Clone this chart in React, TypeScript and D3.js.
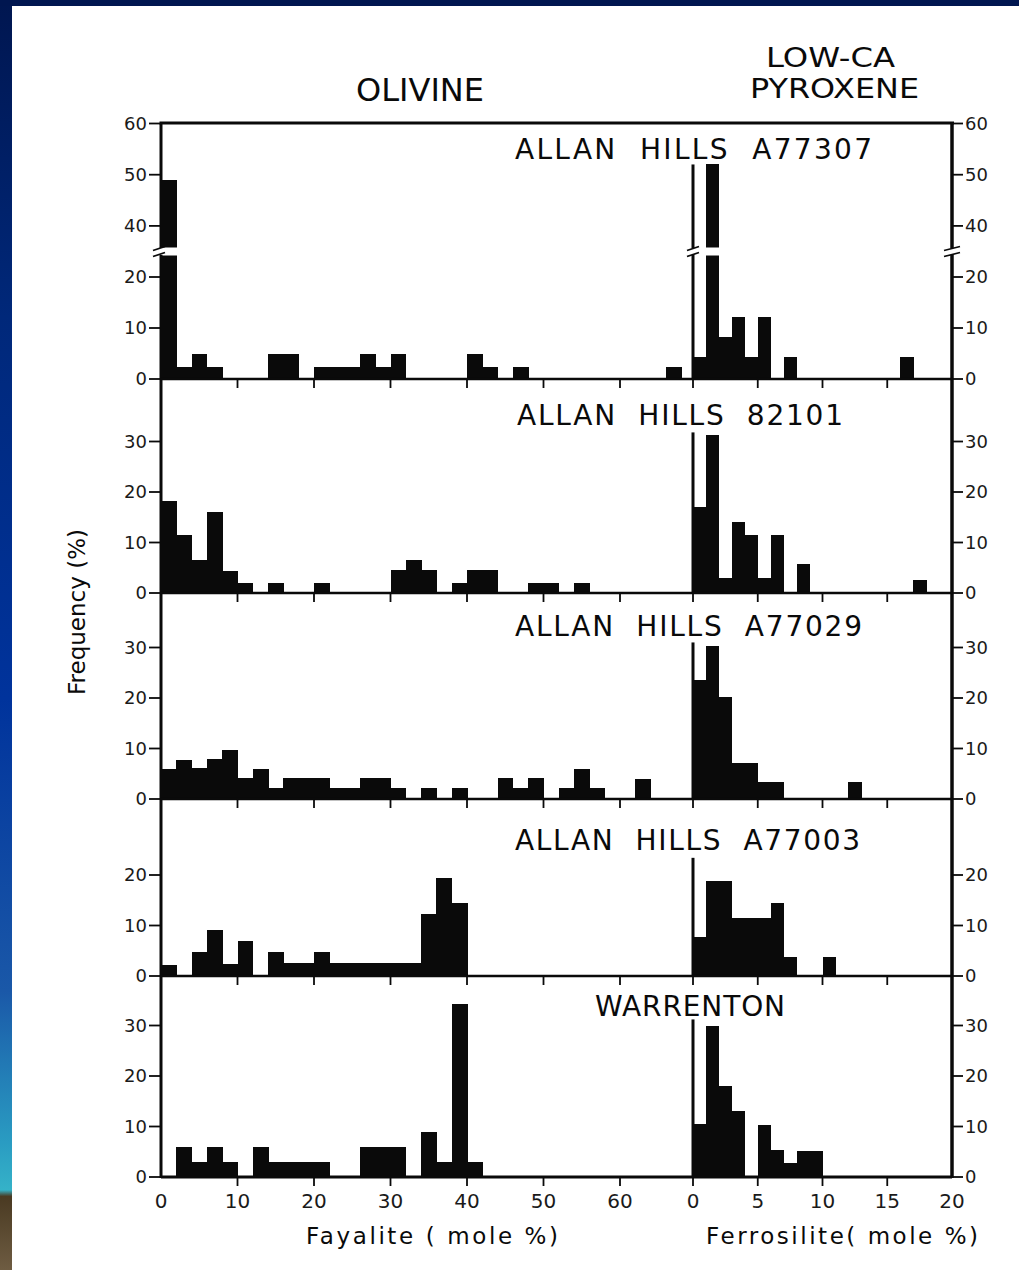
import React from 'react';
import * as d3 from 'd3';

const W = 1019;
const H = 1270;

const panelNames = ['ALLAN  HILLS  A77307', 'ALLAN  HILLS  82101', 'ALLAN  HILLS  A77029', 'ALLAN  HILLS  A77003', 'WARRENTON'];

// Olivine: fayalite frequency (%) in 2 mole% bins starting at 0
const olA77307 = [49, 2.4, 5, 2.4, 0, 0, 0, 5, 5, 0, 2.4, 2.4, 2.4, 5, 2.4, 5, 0, 0, 0, 0, 5, 2.4, 0, 2.4, 0, 0, 0, 0, 0, 0, 0, 0, 0, 2.4];
const ol82101 = [18.3, 11.4, 6.6, 16, 4.4, 2, 0, 2, 0, 0, 2, 0, 0, 0, 0, 4.5, 6.6, 4.5, 0, 2, 4.5, 4.5, 0, 0, 2, 2, 0, 2];
const olA77029 = [5.9, 7.8, 6.1, 7.9, 9.7, 4.1, 5.9, 2.1, 4.1, 4.1, 4.1, 2.1, 2.1, 4.1, 4.1, 2.1, 0, 2.1, 0, 2.1, 0, 0, 4.1, 2.1, 4.1, 0, 2.1, 6, 2.1, 0, 0, 3.9];
const olA77003 = [2.2, 0, 4.8, 9.2, 2.4, 6.9, 0, 4.8, 2.5, 2.5, 4.8, 2.5, 2.5, 2.5, 2.5, 2.5, 2.5, 12.3, 19.5, 14.4];
const olWarrenton = [0, 6, 3, 6, 3, 0, 6, 3, 3, 3, 3, 0, 0, 6, 6, 6, 0, 9, 3, 34.2, 3];

// Low-Ca pyroxene: ferrosilite frequency (%) in 1 mole% bins starting at 0
const pxA77307 = [4.4, 52, 8.3, 12.2, 4.4, 12.2, 0, 4.4, 0, 0, 0, 0, 0, 0, 0, 0, 4.4];
const px82101 = [17, 31.2, 2.9, 14, 11.5, 2.9, 11.4, 0, 5.7, 0, 0, 0, 0, 0, 0, 0, 0, 2.6];
const pxA77029 = [23.5, 30.2, 20.2, 7.1, 7.1, 3.4, 3.4, 0, 0, 0, 0, 0, 3.4];
const pxA77003 = [7.8, 18.8, 18.8, 11.4, 11.4, 11.4, 14.5, 3.8, 0, 0, 3.8];
const pxWarrenton = [10.5, 29.9, 18.1, 13, 0, 10.2, 5.4, 2.7, 5.2, 5.2];

const olivine = [olA77307, ol82101, olA77029, olA77003, olWarrenton];
const pyroxene = [pxA77307, px82101, pxA77029, pxA77003, pxWarrenton];
const separatorTop = [52, 31.8, 31, 23.4, 31.2];

const yTicks = [[0, 10, 20, 40, 50, 60], [0, 10, 20, 30], [0, 10, 20, 30], [0, 10, 20], [0, 10, 20, 30]];
const fayTicks = [0, 10, 20, 30, 40, 50, 60];
const fsTicks = [0, 5, 10, 15, 20];

const OL_BIN = 2;
const PX_BIN = 1;

const FONT = "'DejaVu Sans', 'Liberation Sans', sans-serif";
const INK = '#0a0a0a';

export default function App() {
  const fx = d3.scaleLinear().domain([0, 40]).range([161, 467]);
  const px = d3.scaleLinear().domain([0, 20]).range([693, 952]);
  const frameTop = 123;
  const baselines = [379, 593, 799, 976, 1177];
  const k = 5.05;
  const yScales = baselines.map((b, i) => {
    if (i === 0) return d3.scaleLinear().domain([0, 25, 35, 60]).range([379, 251.5, 251.5, 123.5]);
    const t = baselines[i - 1];
    return d3.scaleLinear().domain([0, (b - t) / k]).range([b, t]);
  });
  const left = fx(0);
  const right = px(20);
  const breakY = 251.5;

  const breakMark = (x: number, w: number, key: string) => (
    <g key={key}>
      <rect x={x - w} y={breakY - 3.5} width={2 * w} height={7} fill="#fff" />
      <line x1={x - w} y1={breakY - 1} x2={x + w} y2={breakY - 5} stroke={INK} strokeWidth={1.8} />
      <line x1={x - w} y1={breakY + 5} x2={x + w} y2={breakY + 1} stroke={INK} strokeWidth={1.8} />
    </g>
  );

  return (
    <svg width={W} height={H} viewBox={`0 0 ${W} ${H}`} style={{ position: 'absolute', left: 0, top: 0, display: 'block' }}>
      <defs>
        <linearGradient id="bg" x1="0" y1="0" x2="0" y2={H} gradientUnits="userSpaceOnUse">
          <stop offset={0} stopColor="#001650" />
          <stop offset={0.25} stopColor="#00287a" />
          <stop offset={0.55} stopColor="#00339c" />
          <stop offset={0.78} stopColor="#1a58a8" />
          <stop offset={0.9} stopColor="#2a9cc2" />
          <stop offset={0.937} stopColor="#35b2c8" />
          <stop offset={0.942} stopColor="#4a3a22" />
          <stop offset={1} stopColor="#6e5c42" />
        </linearGradient>
      </defs>
      <rect x={0} y={0} width={W} height={H} fill="url(#bg)" />
      <rect x={0} y={0} width={W} height={6} fill="#001650" />
      <rect x={12} y={6} width={W - 12} height={H - 6} fill="#ffffff" />

      {/* bars */}
      {olivine.map((vals, i) => (
        <g key={`ol${i}`} shapeRendering="crispEdges">
          {vals.map((v, j) => v > 0 ? (
            <rect key={j} x={fx(j * OL_BIN)} y={yScales[i](v)} width={fx((j + 1) * OL_BIN) - fx(j * OL_BIN) + 0.5}
              height={yScales[i](0) - yScales[i](v)} fill={INK} />
          ) : null)}
        </g>
      ))}
      {pyroxene.map((vals, i) => (
        <g key={`px${i}`} shapeRendering="crispEdges">
          {vals.map((v, j) => v > 0 ? (
            <rect key={j} x={px(j * PX_BIN)} y={yScales[i](v)} width={px((j + 1) * PX_BIN) - px(j * PX_BIN) + 0.5}
              height={yScales[i](0) - yScales[i](v)} fill={INK} />
          ) : null)}
        </g>
      ))}

      {/* separators at ferrosilite 0 */}
      {separatorTop.map((v, i) => (
        <line key={`sep${i}`} x1={px(0)} x2={px(0)} y1={baselines[i]} y2={yScales[i](v)} stroke={INK} strokeWidth={3} />
      ))}

      {/* frame */}
      <line x1={left - 1.5} x2={right + 2} y1={frameTop} y2={frameTop} stroke={INK} strokeWidth={3} />
      <line x1={left} x2={left} y1={frameTop} y2={baselines[4] + 1} stroke={INK} strokeWidth={3} />
      <line x1={right} x2={right} y1={frameTop} y2={baselines[4] + 1} stroke={INK} strokeWidth={3.5} />
      {baselines.map((b, i) => (
        <line key={`base${i}`} x1={left} x2={right} y1={b} y2={b} stroke={INK} strokeWidth={i === 4 ? 3 : 2.5} />
      ))}

      {/* breaks in top panel */}
      {olivine[0].map((v, j) => v > 25 ? (
        <rect key={`gapOl${j}`} x={fx(j * OL_BIN) + (j === 0 ? 1.5 : -0.5)} y={breakY - 4} width={fx((j + 1) * OL_BIN) - fx(j * OL_BIN) + 1} height={8} fill="#fff" />
      ) : null)}
      {pyroxene[0].map((v, j) => v > 25 ? (
        <rect key={`gapPx${j}`} x={px(j * PX_BIN) - 0.5} y={breakY - 4} width={px((j + 1) * PX_BIN) - px(j * PX_BIN) + 1.5} height={8} fill="#fff" />
      ) : null)}
      {breakMark(left - 2, 6, 'bl')}
      {breakMark(right, 8, 'br')}
      {breakMark(px(0), 6, 'bs')}

      {/* y ticks and labels */}
      {yTicks.map((ticks, i) => (
        <g key={`yt${i}`}>
          {ticks.map((t) => {
            const y = yScales[i](t);
            return (
              <g key={t}>
                <line x1={left - 12} x2={left} y1={y} y2={y} stroke={INK} strokeWidth={1.8} />
                <line x1={right} x2={right + 11} y1={y} y2={y} stroke={INK} strokeWidth={1.8} />
                <text x={left - 14} y={y} dy="0.36em" textAnchor="end" fontFamily={FONT} fontSize={18} fill="#1a1a1a">{t}</text>
                <text x={right + 13} y={y} dy="0.36em" textAnchor="start" fontFamily={FONT} fontSize={18} fill="#1a1a1a">{t}</text>
              </g>
            );
          })}
        </g>
      ))}

      {/* x ticks along each panel bottom */}
      {baselines.map((b, i) => (
        <g key={`xt${i}`}>
          {fayTicks.filter((t) => t > 0).map((t) => (
            <line key={`f${t}`} x1={fx(t)} x2={fx(t)} y1={b} y2={b + 9} stroke={INK} strokeWidth={1.8} />
          ))}
          {fsTicks.filter((t) => t < 20).map((t) => (
            <line key={`p${t}`} x1={px(t)} x2={px(t)} y1={b} y2={b + 9} stroke={INK} strokeWidth={1.8} />
          ))}
        </g>
      ))}

      {/* bottom tick labels */}
      {fayTicks.map((t) => (
        <text key={`fl${t}`} x={fx(t)} y={1208} textAnchor="middle" fontFamily={FONT} fontSize={20} fill="#1a1a1a">{t}</text>
      ))}
      {fsTicks.map((t) => (
        <text key={`pl${t}`} x={px(t)} y={1208} textAnchor="middle" fontFamily={FONT} fontSize={20} fill="#1a1a1a">{t}</text>
      ))}

      {/* panel names */}
      {panelNames.map((name, i) => {
        const pos = [[515, 159, 357], [517, 425, 326], [515, 636, 347], [515, 850, 345], [595, 1016, 190]][i];
        return (
          <text key={`pn${i}`} x={pos[0]} y={pos[1]} textLength={pos[2]} lengthAdjust="spacing"
            fontFamily={FONT} fontSize={28} fill={INK} style={{ whiteSpace: 'pre' }}>{name}</text>
        );
      })}

      {/* headers */}
      <text x={356} y={101} textLength={128} lengthAdjust="spacingAndGlyphs" fontFamily={FONT} fontSize={32} fill={INK}>OLIVINE</text>
      <text x={766} y={67} textLength={129} lengthAdjust="spacingAndGlyphs" fontFamily={FONT} fontSize={27} fill={INK}>LOW-CA</text>
      <text x={750} y={98} textLength={169} lengthAdjust="spacingAndGlyphs" fontFamily={FONT} fontSize={27} fill={INK}>PYROXENE</text>

      {/* axis titles */}
      <text x={306} y={1244} textLength={252} lengthAdjust="spacing" fontFamily={FONT} fontSize={23} fill={INK} style={{ whiteSpace: 'pre' }}>Fayalite ( mole %)</text>
      <text x={706} y={1244} textLength={272} lengthAdjust="spacing" fontFamily={FONT} fontSize={23} fill={INK} style={{ whiteSpace: 'pre' }}>Ferrosilite( mole %)</text>
      <text transform="translate(85, 612) rotate(-90)" textAnchor="middle" fontFamily={FONT} fontSize={23} fill={INK}>Frequency (%)</text>
    </svg>
  );
}
